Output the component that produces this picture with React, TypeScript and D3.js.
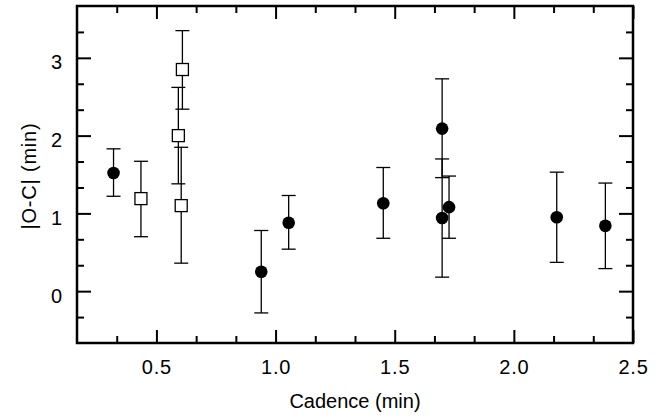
import React, { useRef, useEffect } from 'react';
import * as d3 from 'd3';

const W = 671;
const H = 418;
const MARGIN = { top: 6, right: 38, bottom: 75, left: 77 };

// filled circles
const cadenceFilled = [0.32, 0.94, 1.055, 1.452, 1.699, 1.699, 1.728, 2.18, 2.384];
const ocFilled = [1.52, 0.25, 0.88, 1.13, 2.09, 0.94, 1.08, 0.95, 0.84];
const errLowFilled = [1.22, -0.28, 0.54, 0.68, 1.46, 0.18, 0.68, 0.37, 0.29];
const errHighFilled = [1.83, 0.78, 1.23, 1.59, 2.73, 1.70, 1.48, 1.53, 1.39];

// open squares
const cadenceOpen = [0.435, 0.609, 0.592, 0.604];
const ocOpen = [1.19, 2.85, 2.0, 1.10];
const errLowOpen = [0.70, 2.34, 1.38, 0.36];
const errHighOpen = [1.67, 3.35, 2.62, 1.85];

const xMajor = [0.5, 1.0, 1.5, 2.0, 2.5];
const xMinor = [1 / 3, 2 / 3, 5 / 6, 7 / 6, 4 / 3, 5 / 3, 11 / 6, 13 / 6, 7 / 3];
const yMajor = [0, 1, 2, 3];
const yMinor = [-1 / 3, 1 / 3, 2 / 3, 4 / 3, 5 / 3, 7 / 3, 8 / 3, 10 / 3];

const FONT = '"Liberation Sans", Arial, Helvetica, sans-serif';

export default function App() {
  const svgRef = useRef<SVGSVGElement>(null);

  useEffect(() => {
    const innerW = W - MARGIN.left - MARGIN.right;
    const innerH = H - MARGIN.top - MARGIN.bottom;

    const x = d3.scaleLinear().domain([1 / 6, 2.5]).range([0, innerW]);
    const y = d3.scaleLinear().domain([-2 / 3, 11 / 3]).range([innerH, 0]);

    const svg = d3.select(svgRef.current);
    svg.selectAll('*').remove();
    const g = svg.append('g').attr('transform', `translate(${MARGIN.left},${MARGIN.top})`);

    const styleAxis = (a: any) => {
      a.select('.domain').remove();
      a.selectAll('line').attr('stroke', '#000').attr('stroke-width', 2);
      a.selectAll('text').attr('font-family', FONT).attr('font-size', 20)
        .attr('fill', '#000').attr('letter-spacing', 0.8);
    };

    // bottom axis: major with labels, minor without
    g.append('g').attr('transform', `translate(0,${innerH})`)
      .call(d3.axisBottom(x).tickValues(xMajor).tickSize(-13).tickPadding(17).tickFormat(d3.format('.1f')))
      .call(styleAxis);
    g.append('g').attr('transform', `translate(0,${innerH})`)
      .call(d3.axisBottom(x).tickValues(xMinor).tickSize(-7).tickFormat(() => ''))
      .call(styleAxis);
    // top axis
    g.append('g')
      .call(d3.axisTop(x).tickValues(xMajor).tickSize(-13).tickFormat(() => ''))
      .call(styleAxis);
    g.append('g')
      .call(d3.axisTop(x).tickValues(xMinor).tickSize(-7).tickFormat(() => ''))
      .call(styleAxis);
    // left axis
    g.append('g')
      .call(d3.axisLeft(y).tickValues(yMajor).tickSize(-14).tickPadding(14).tickFormat(d3.format('d')))
      .call(styleAxis)
      .call(a => a.selectAll('text').attr('dy', '0.55em'));
    g.append('g')
      .call(d3.axisLeft(y).tickValues(yMinor).tickSize(-7).tickFormat(() => ''))
      .call(styleAxis);
    // right axis
    g.append('g').attr('transform', `translate(${innerW},0)`)
      .call(d3.axisRight(y).tickValues(yMajor).tickSize(-14).tickFormat(() => ''))
      .call(styleAxis);
    g.append('g').attr('transform', `translate(${innerW},0)`)
      .call(d3.axisRight(y).tickValues(yMinor).tickSize(-7).tickFormat(() => ''))
      .call(styleAxis);

    // frame
    g.append('rect')
      .attr('width', innerW).attr('height', innerH)
      .attr('fill', 'none').attr('stroke', '#000').attr('stroke-width', 2.5);

    const cap = 7;
    const drawErr = (xs: number[], lo: number[], hi: number[]) => {
      const eg = g.append('g').attr('stroke', '#000').attr('stroke-width', 1.3);
      xs.forEach((xv, i) => {
        const cx = x(xv);
        eg.append('line').attr('x1', cx).attr('x2', cx).attr('y1', y(lo[i])).attr('y2', y(hi[i]));
        eg.append('line').attr('x1', cx - cap).attr('x2', cx + cap).attr('y1', y(lo[i])).attr('y2', y(lo[i]));
        eg.append('line').attr('x1', cx - cap).attr('x2', cx + cap).attr('y1', y(hi[i])).attr('y2', y(hi[i]));
      });
    };

    drawErr(cadenceOpen, errLowOpen, errHighOpen);
    drawErr(cadenceFilled, errLowFilled, errHighFilled);

    // open squares
    g.append('g').selectAll('rect')
      .data(cadenceOpen)
      .join('rect')
      .attr('x', d => x(d) - 6).attr('y', (_, i) => y(ocOpen[i]) - 6)
      .attr('width', 12).attr('height', 12)
      .attr('fill', '#fff').attr('stroke', '#000').attr('stroke-width', 1.3);

    // filled circles
    g.append('g').selectAll('circle')
      .data(cadenceFilled)
      .join('circle')
      .attr('cx', d => x(d)).attr('cy', (_, i) => y(ocFilled[i]))
      .attr('r', 6.3).attr('fill', '#000');

    // axis labels
    g.append('text')
      .attr('x', innerW / 2).attr('y', innerH + 65)
      .attr('text-anchor', 'middle').attr('font-family', FONT).attr('font-size', 20)
      .text('Cadence (min)');

    g.append('text')
      .attr('transform', 'rotate(-90)')
      .attr('x', -170).attr('y', -41)
      .attr('text-anchor', 'middle').attr('font-family', FONT).attr('font-size', 20)
      .attr('letter-spacing', 0.8)
      .text('|O-C| (min)');
  }, []);

  return (
    <svg ref={svgRef} width={W} height={H}
      style={{ position: 'absolute', left: 0, top: 0, background: '#fff' }} />
  );
}
